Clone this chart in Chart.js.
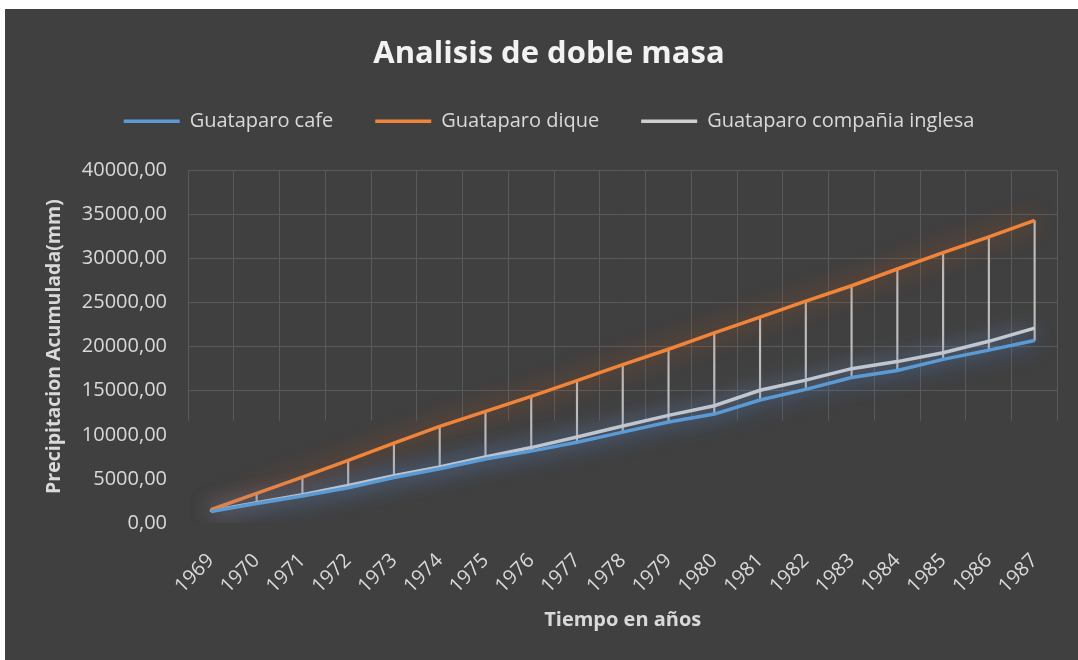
<!DOCTYPE html>
<html><head><meta charset="utf-8">
<script src="https://cdn.jsdelivr.net/npm/chart.js@4.4.0/dist/chart.umd.min.js"></script>
<style>
html,body{margin:0;padding:0;background:#ffffff;}
#wrap{position:absolute;left:5px;top:9px;width:1073px;height:651px;background:#404040;}
canvas{display:block;}
</style></head><body>
<div id="wrap"><canvas id="c" width="1073" height="651"></canvas></div>
<script>
const years = ['1969','1970','1971','1972','1973','1974','1975','1976','1977','1978','1979','1980','1981','1982','1983','1984','1985','1986','1987'];
const cafe = [1300,2200,3050,4000,5150,6150,7250,8150,9150,10300,11450,12350,13950,15150,16500,17300,18550,19600,20700];
const dique = [1500,3350,5200,7100,9050,10950,12650,14350,16150,17950,19700,21550,23350,25150,26900,28800,30650,32450,34300];
const inglesa = [1350,2300,3200,4250,5350,6350,7500,8550,9750,11000,12200,13300,15050,16200,17500,18300,19300,20600,22100];
const seriesNames = ['Guataparo cafe','Guataparo dique','Guataparo compañia inglesa'];
const yMin = 0, yMax = 40000, yStep = 5000;
const gridCutValue = 11600;

const BG = '#404040';
const GRID = '#5a5a5a';
const TXT = '#d9d9d9';
const FONT = "'Open Sans', 'Noto Sans', sans-serif";

const highLow = years.map((_, i) => {
  const v = [cafe[i], dique[i], inglesa[i]];
  return [Math.min(...v), Math.max(...v)];
});

const glow = {
  id: 'glow',
  beforeDatasetDraw(chart, args) {
    const ds = chart.data.datasets[args.index];
    if (!ds.glowColor) return;
    chart.ctx.save();
    chart.ctx.shadowColor = ds.glowColor;
    chart.ctx.shadowBlur = 22;
  },
  afterDatasetDraw(chart, args) {
    const ds = chart.data.datasets[args.index];
    if (!ds.glowColor) return;
    chart.ctx.restore();
  }
};

const gridCut = {
  id: 'gridCut',
  beforeDatasetsDraw(chart) {
    const {ctx, chartArea: a, scales: {y}} = chart;
    const top = y.getPixelForValue(gridCutValue);
    ctx.save();
    ctx.fillStyle = BG;
    ctx.fillRect(a.left - 2, top, a.right - a.left + 4, a.bottom - top + 3);
    ctx.restore();
  }
};

const legendGap = {
  id: 'legendGap',
  beforeLayout(chart) {
    const lg = chart.legend;
    if (lg && !lg._gapPatched) {
      const f = lg.fit.bind(lg);
      lg.fit = function () { f(); this.height += 29; };
      lg._gapPatched = true;
    }
  }
};

new Chart(document.getElementById('c'), {
  type: 'line',
  data: {
    labels: years,
    datasets: [
      {label: seriesNames[0], data: cafe, borderColor: '#5b9bd5', backgroundColor: '#5b9bd5', borderWidth: 3.5, pointRadius: 0, glowColor: 'rgba(60,125,215,1)', order: 0},
      {label: seriesNames[1], data: dique, borderColor: '#f0853a', backgroundColor: '#f0853a', borderWidth: 3.5, pointRadius: 0, glowColor: 'rgba(190,85,25,1)', order: 0},
      {label: seriesNames[2], data: inglesa, borderColor: '#cfcfcf', backgroundColor: '#cfcfcf', borderWidth: 3.5, pointRadius: 0, glowColor: 'rgba(140,150,185,0.9)', order: 0},
      {type: 'bar', label: 'hl', data: highLow, backgroundColor: '#bdbdbd', borderWidth: 0, barThickness: 1.5, order: 5}
    ]
  },
  options: {
    responsive: false,
    animation: false,
    devicePixelRatio: 1,
    layout: {padding: {left: 30, right: 15, top: 0, bottom: 0}},
    plugins: {
      title: {display: true, text: 'Analisis de doble masa', color: '#f2f2f2', font: {family: FONT, size: 31, weight: 'bold'}, padding: {top: 27, bottom: -4}},
      legend: {
        position: 'top',
        labels: {
          usePointStyle: true, pointStyle: 'line', pointStyleWidth: 56,
          color: TXT, font: {family: FONT, size: 20}, padding: 42,
          filter: item => item.datasetIndex < 3
        }
      },
      tooltip: {enabled: false}
    },
    scales: {
      x: {
        offset: true,
        grid: {offset: true, color: GRID, lineWidth: 1, drawTicks: false},
        border: {display: false},
        ticks: {color: TXT, font: {family: FONT, size: 20}, minRotation: 45, maxRotation: 45, autoSkip: false, padding: 26},
        title: {display: true, text: 'Tiempo en años', color: TXT, font: {family: FONT, size: 20, weight: 'bold'}, padding: {top: 0, bottom: 28}},
        afterFit(s) { s.height = 137; }
      },
      y: {
        min: yMin, max: yMax,
        grid: {color: GRID, lineWidth: 1, drawTicks: false},
        border: {display: false},
        ticks: {stepSize: yStep, color: TXT, font: {family: FONT, size: 20}, padding: 21,
          callback: v => v.toFixed(2).replace('.', ',')},
        title: {display: true, text: 'Precipitacion Acumulada(mm)', color: TXT, font: {family: FONT, size: 19.5, weight: 'bold'}, padding: {top: 8, bottom: 0}},
        afterFit(s) { s.width = 153; }
      }
    }
  },
  plugins: [legendGap, gridCut, glow]
});
</script>
</body></html>
